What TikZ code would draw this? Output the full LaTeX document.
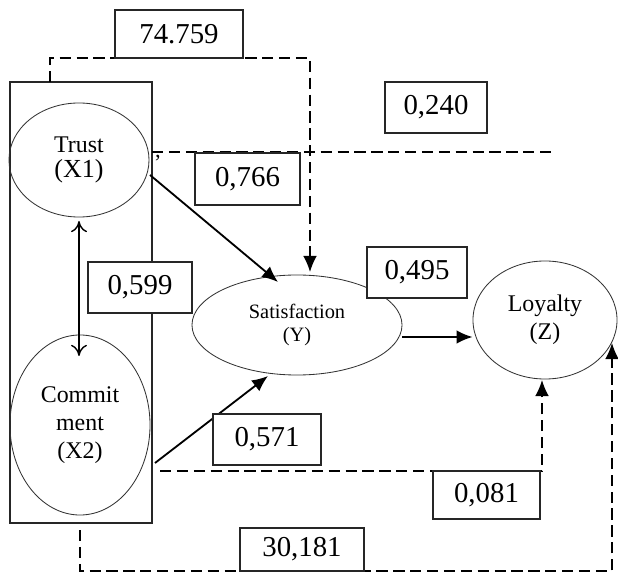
\documentclass[tikz,border=0pt]{standalone}
\usepackage{fontspec}
\setmainfont{Liberation Serif}
\usepackage{tikz}
\usetikzlibrary{positioning,shapes.geometric,arrows.meta}
\tikzset{
  lat/.style={ellipse, draw=black!80, line width=0.6pt, inner sep=0pt, align=center, font=\fontsize{17}{20}\selectfont},
  val/.style={rectangle, draw=black!85, line width=0.9pt, fill=white, inner sep=0pt, font=\fontsize{20.5}{24}\selectfont},
  eff/.style={line width=1.3pt, -{Latex[length=4mm,width=3.4mm]}},
  ind/.style={line width=1pt, dash pattern=on 8pt off 4pt, -{Latex[length=4mm,width=3.4mm]}},
  cor/.style={line width=1pt, {To[length=2.8mm,width=4mm]}-{To[length=2.8mm,width=4mm]}}
}
\begin{document}
\begin{tikzpicture}[x=0.025cm,y=-0.025cm]
	\useasboundingbox (0,0) rectangle (618,576);
	\node[draw=black!85, line width=0.9pt, minimum width=3.55cm, minimum height=11.025cm] (frame) at (81,302.5) {};
	\node[lat, minimum width=3.5cm, minimum height=2.85cm] (trust) at (79,160) {Trust\\[-2pt]\fontsize{18.5}{20}\selectfont(X1)};
	\node[lat, minimum width=3.5cm, minimum height=4.5cm] (commit) at (80,425) {Commit\\ment\\(X2)};
	\node[lat, minimum width=5.25cm, minimum height=2.5cm, font=\fontsize{14.5}{17}\selectfont] (sat) at (297,325) {Satisfaction\\(Y)};
	\node[lat, minimum width=3.6cm, minimum height=2.95cm] (loy) at (545,320) {Loyalty\\(Z)};
	\node[font=\fontsize{16}{16}\selectfont] (comma) at (158,158) {,};
	%
	\coordinate (topstart) at (50,82);
	\coordinate (sattop) at (310,272);
	\coordinate (lineend) at (555,152);
	\coordinate (botstart) at (80,530);
	\coordinate (loyright) at (612,343);
	\draw[ind] (topstart) -- (50,58) -- (310,58) -- (sattop);
	\draw[line width=1pt, dash pattern=on 8pt off 4pt] (152,152) -- (lineend);
	\draw[eff] (150,175) -- (278,282);
	\draw[cor] (79,221) -- (79,356);
	\draw[eff] (sat.east |- 0,337) -- (loy.west |- 0,337);
	\draw[eff] (155,463) -- (268,376);
	\draw[ind] (160,471) -- (542,471) -- (542,380);
	\draw[ind] (botstart) -- (80,571) -- (612,571) -- (loyright);
	%
	\node[val, minimum width=3.2cm, minimum height=1.2cm] (v1) at (179,34) {74.759};
	\node[val, minimum width=2.55cm, minimum height=1.275cm] (v2) at (436,107.5) {0,240};
	\node[val, minimum width=2.625cm, minimum height=1.3cm] (v3) at (247.5,179) {0,766};
	\node[val, minimum width=2.6cm, minimum height=1.275cm] (v4) at (140,287.5) {0,599};
	\node[val, minimum width=2.5cm, minimum height=1.275cm] (v5) at (417,272.5) {0,495};
	\node[val, minimum width=2.7cm, minimum height=1.275cm] (v6) at (267,439.5) {0,571};
	\node[val, minimum width=2.675cm, minimum height=1.2cm] (v7) at (486.5,495) {0,081};
	\node[val, minimum width=3.1cm, minimum height=1.075cm] (v8) at (302,549.5) {30,181};
\end{tikzpicture}
\end{document}
